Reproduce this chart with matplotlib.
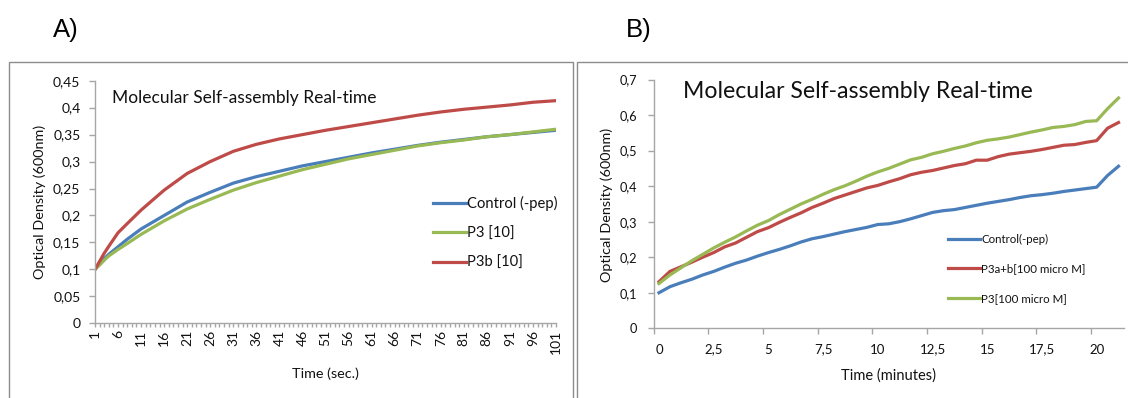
import matplotlib
matplotlib.use("Agg")
import matplotlib.pyplot as plt
from matplotlib.patches import Rectangle
from matplotlib.ticker import FixedLocator, NullFormatter

plt.rcParams['font.family'] = ['Lato', 'DejaVu Sans']

# ---------------- Panel A data (time in seconds, category axis 1..101) -----
a_time = [1, 2, 3, 4, 6, 8, 11, 16, 21, 26, 31, 36, 41, 46, 51, 56, 61, 66,
          71, 76, 81, 86, 91, 96, 101]
a_control = [0.100, 0.110, 0.120, 0.128, 0.142, 0.156, 0.175, 0.200, 0.225,
             0.243, 0.260, 0.272, 0.282, 0.292, 0.300, 0.308, 0.316, 0.323,
             0.330, 0.336, 0.341, 0.346, 0.350, 0.354, 0.358]
a_p3 = [0.100, 0.108, 0.117, 0.125, 0.137, 0.148, 0.165, 0.190, 0.212,
        0.230, 0.247, 0.261, 0.273, 0.285, 0.295, 0.305, 0.313, 0.321,
        0.329, 0.335, 0.340, 0.346, 0.350, 0.355, 0.360]
a_p3b = [0.100, 0.115, 0.130, 0.143, 0.168, 0.185, 0.210, 0.247, 0.278,
         0.300, 0.319, 0.332, 0.342, 0.350, 0.358, 0.365, 0.372, 0.379,
         0.386, 0.392, 0.397, 0.401, 0.405, 0.410, 0.413]
a_labels = ["Control (-pep)", "P3 [10]", "P3b [10]"]
a_xticks = [1, 6, 11, 16, 21, 26, 31, 36, 41, 46, 51, 56, 61, 66, 71, 76, 81,
            86, 91, 96, 101]
a_yticks = [0, 0.05, 0.1, 0.15, 0.2, 0.25, 0.3, 0.35, 0.4, 0.45]
a_yticklabels = ["0", "0,05", "0,1", "0,15", "0,2", "0,25", "0,3", "0,35",
                 "0,4", "0,45"]

# ---------------- Panel B data (time in minutes, every 0.5 min) -------------
b_time = [0, 0.5, 1, 1.5, 2, 2.5, 3, 3.5, 4, 4.5, 5, 5.5, 6, 6.5, 7, 7.5, 8,
          8.5, 9, 9.5, 10, 10.5, 11, 11.5, 12, 12.5, 13, 13.5, 14, 14.5, 15,
          15.5, 16, 16.5, 17, 17.5, 18, 18.5, 19, 19.5, 20, 20.5, 21]
b_control = [0.100, 0.117, 0.128, 0.138, 0.150, 0.160, 0.172, 0.183, 0.192,
             0.203, 0.213, 0.222, 0.232, 0.243, 0.252, 0.258, 0.265, 0.272,
             0.278, 0.284, 0.292, 0.294, 0.300, 0.308, 0.317, 0.326, 0.331,
             0.334, 0.340, 0.346, 0.352, 0.357, 0.362, 0.368, 0.373, 0.376,
             0.380, 0.385, 0.389, 0.393, 0.397, 0.430, 0.456]
b_p3ab = [0.131, 0.160, 0.173, 0.186, 0.200, 0.213, 0.229, 0.240, 0.256,
          0.272, 0.283, 0.298, 0.312, 0.325, 0.340, 0.352, 0.365, 0.375,
          0.385, 0.395, 0.402, 0.412, 0.421, 0.432, 0.439, 0.444, 0.451,
          0.458, 0.463, 0.473, 0.473, 0.483, 0.490, 0.494, 0.498, 0.503,
          0.509, 0.515, 0.517, 0.523, 0.528, 0.563, 0.579]
b_p3 = [0.126, 0.150, 0.170, 0.190, 0.208, 0.226, 0.242, 0.257, 0.274,
        0.290, 0.303, 0.320, 0.335, 0.350, 0.363, 0.377, 0.390, 0.401,
        0.414, 0.428, 0.440, 0.450, 0.462, 0.474, 0.481, 0.491, 0.498,
        0.506, 0.513, 0.522, 0.529, 0.533, 0.538, 0.545, 0.552, 0.558,
        0.565, 0.568, 0.573, 0.582, 0.584, 0.618, 0.648]
b_labels = ["Control(-pep)", "P3a+b[100 micro M]", "P3[100 micro M]"]
b_xticks = [0, 2.5, 5, 7.5, 10, 12.5, 15, 17.5, 20]
b_xticklabels = ["0", "2,5", "5", "7,5", "10", "12,5", "15", "17,5", "20"]
b_yticks = [0, 0.1, 0.2, 0.3, 0.4, 0.5, 0.6, 0.7]
b_yticklabels = ["0", "0,1", "0,2", "0,3", "0,4", "0,5", "0,6", "0,7"]

BLUE = "#4a7ebb"
RED = "#be4b48"
GREEN = "#98b954"
AXC = "#a6a6a6"
TXT = "#111111"

W, H = 1128, 398
fig = plt.figure(figsize=(W / 100, H / 100), dpi=100)


def fx(px):
    return px / W


def fy(py):
    return 1 - py / H


# frames
fig.add_artist(Rectangle((fx(8.5), fy(420)), fx(573 - 8.5), fy(62) - fy(420),
                         transform=fig.transFigure, fill=False,
                         edgecolor="#8c8c8c", linewidth=1.0))
fig.add_artist(Rectangle((fx(577), fy(420)), fx(1140 - 577), fy(62) - fy(420),
                         transform=fig.transFigure, fill=False,
                         edgecolor="#8c8c8c", linewidth=1.0))

fig.text(fx(53), fy(37), "A)", fontsize=18.5, family="Liberation Sans",
         color="black", ha="left", va="baseline")
fig.text(fx(626), fy(37), "B)", fontsize=18.5, family="Liberation Sans",
         color="black", ha="left", va="baseline")


def style_axes(ax):
    for s in ("top", "right"):
        ax.spines[s].set_visible(False)
    for s in ("left", "bottom"):
        ax.spines[s].set_color(AXC)
        ax.spines[s].set_linewidth(1.0)
    ax.tick_params(which="both", color=AXC, width=1.0, labelcolor=TXT)


lw = 2.3

# ---------------- Panel A ----------------
A_L, A_R, A_T, A_B = 95, 556, 80.7, 323.3
axA = fig.add_axes([fx(A_L), fy(A_B), fx(A_R - A_L), fy(A_T) - fy(A_B)])
style_axes(axA)
axA.plot(a_time, a_control, color=BLUE, lw=lw, label=a_labels[0])
axA.plot(a_time, a_p3, color=GREEN, lw=lw, label=a_labels[1])
axA.plot(a_time, a_p3b, color=RED, lw=lw, label=a_labels[2])
axA.set_xlim(1, 101)
axA.set_ylim(0, 0.45)
axA.set_yticks(a_yticks)
axA.set_yticklabels(a_yticklabels, fontsize=10)
axA.set_xticks(a_xticks)
axA.set_xticklabels([str(v) for v in a_xticks], rotation=90, fontsize=10)
axA.xaxis.set_minor_locator(FixedLocator(list(range(1, 102))))
axA.tick_params(axis="x", which="both", length=3, pad=2)
axA.tick_params(axis="y", length=4, pad=6.5)
axA.set_xlabel("Time (sec.)", fontsize=10.4, color=TXT)
axA.xaxis.set_label_coords(0.5, (A_B - 374) / (A_B - A_T))
axA.xaxis.label.set_va("center")
axA.set_ylabel("Optical Density (600nm)", fontsize=10.4, color=TXT)
axA.yaxis.set_label_coords((39.3 - A_L) / (A_R - A_L),
                           (A_B - 201.7) / (A_B - A_T))
axA.yaxis.label.set_va("center")
axA.yaxis.label.set_ha("center")
axA.text(fx(112), fy(98), "Molecular Self-assembly Real-time",
         transform=fig.transFigure, fontsize=12.5, color=TXT, va="center")
legA = axA.legend(loc="upper left", bbox_to_anchor=(fx(433), fy(196.3)),
                  bbox_transform=fig.transFigure, frameon=False, fontsize=10.6,
                  handlelength=2.25, handletextpad=0.07, labelspacing=1.03,
                  borderpad=0, borderaxespad=0)
for t in legA.get_texts():
    t.set_color(TXT)

# ---------------- Panel B ----------------
B_L, B_R, B_T, B_B = 653.5, 1124, 79.5, 328.3
axB = fig.add_axes([fx(B_L), fy(B_B), fx(B_R - B_L), fy(B_T) - fy(B_B)])
style_axes(axB)
b_pos = [t + 0.25 for t in b_time]
axB.plot(b_pos, b_control, color=BLUE, lw=lw, label=b_labels[0])
axB.plot(b_pos, b_p3ab, color=RED, lw=lw, label=b_labels[1])
axB.plot(b_pos, b_p3, color=GREEN, lw=lw, label=b_labels[2])
axB.set_xlim(0, 21.5)
axB.set_ylim(0, 0.7)
axB.set_yticks(b_yticks)
axB.set_yticklabels(b_yticklabels, fontsize=9.2)
axB.set_xticks(b_xticks)
axB.xaxis.set_major_formatter(NullFormatter())
axB.set_xticks([v + 0.25 for v in b_xticks], minor=True)
axB.set_xticklabels(b_xticklabels, minor=True, fontsize=9.5)
axB.tick_params(axis="x", which="major", length=4)
axB.tick_params(axis="x", which="minor", length=0, pad=11)
axB.tick_params(axis="y", length=4.5, pad=7.5)
axB.set_xlabel("Time (minutes)", fontsize=10.5, color=TXT)
axB.xaxis.set_label_coords(0.5, (B_B - 376) / (B_B - B_T))
axB.xaxis.label.set_va("center")
axB.set_ylabel("Optical Density (600nm)", fontsize=10.4, color=TXT)
axB.yaxis.set_label_coords((607 - B_L) / (B_R - B_L),
                           (B_B - 204.8) / (B_B - B_T))
axB.yaxis.label.set_va("center")
axB.yaxis.label.set_ha("center")
axB.text(fx(683), fy(92), "Molecular Self-assembly Real-time",
         transform=fig.transFigure, fontsize=16.6, color=TXT, va="center")
legB = axB.legend(loc="upper left", bbox_to_anchor=(fx(948), fy(234.1)),
                  bbox_transform=fig.transFigure, frameon=False, fontsize=8.3,
                  handlelength=2.78, handletextpad=0.1, labelspacing=1.59,
                  borderpad=0, borderaxespad=0)
for t in legB.get_texts():
    t.set_color(TXT)

fig.savefig("out.png", dpi=100)
